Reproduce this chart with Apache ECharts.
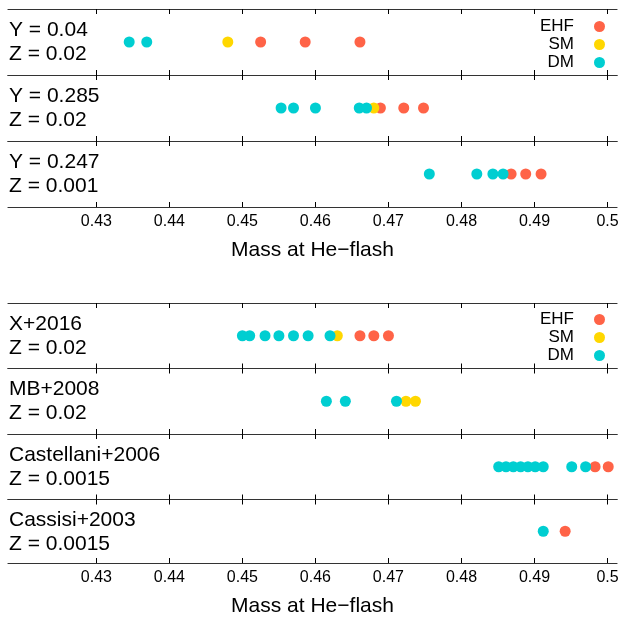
<!DOCTYPE html>
<html>
<head>
<meta charset="utf-8">
<script src="https://cdn.jsdelivr.net/npm/echarts@6/dist/echarts.min.js"></script>
<style>
  html, body { margin: 0; padding: 0; background: #fff; }
  #chart { width: 625px; height: 618px; }
</style>
</head>
<body>
<div id="chart"></div>
<script>
// tick values on the mass axis
const xTicks = [0.43, 0.44, 0.45, 0.46, 0.47, 0.48, 0.49, 0.5]
const axisTitle = 'Mass at He\u2212flash'
const seriesNames = ['EHF', 'SM', 'DM']

// one entry per row, top to bottom
const rowLabels = [
  'Y = 0.04\nZ = 0.02',
  'Y = 0.285\nZ = 0.02',
  'Y = 0.247\nZ = 0.001',
  'X+2016\nZ = 0.02',
  'MB+2008\nZ = 0.02',
  'Castellani+2006\nZ = 0.0015',
  'Cassisi+2003\nZ = 0.0015'
]
const ehfMass = [
  [0.4525, 0.4586, 0.4661],
  [0.4689, 0.4721, 0.4748],
  [0.4868, 0.4888, 0.4909],
  [0.4661, 0.4680, 0.4700],
  [],
  [0.4983, 0.5001],
  [0.4942]
]
const smMass = [
  [0.4480],
  [0.4680],
  [],
  [0.4630],
  [0.4724, 0.4737],
  [],
  []
]
const dmMass = [
  [0.4345, 0.4369],
  [0.4553, 0.4570, 0.4600, 0.4660, 0.4670],
  [0.4756, 0.4821, 0.4843, 0.4857],
  [0.4500, 0.4510, 0.4531, 0.4550, 0.4570, 0.4590, 0.4620],
  [0.4615, 0.4641, 0.4711],
  [0.4851, 0.4861, 0.4871, 0.4881, 0.4891, 0.4901, 0.4912, 0.4951, 0.4970],
  [0.4912]
]

// layout of the rows (px)
const rowTops = [9, 75, 141, 303, 368.5, 434, 499.5]
const rowHeights = [66, 66, 66, 65.5, 65.5, 65.5, 65.5]
const lastRows = [2, 6]
const firstRows = [0, 3]

const colors = { EHF: '#FF6347', SM: '#FFD700', DM: '#00CED1' }
const font = '"Liberation Sans", Arial, sans-serif'
const lineColor = '#333'

const grid = []
const xAxis = []
const yAxis = []
const series = []
const title = []

rowLabels.forEach((label, i) => {
  grid.push({ left: 8, right: 8, top: rowTops[i], height: rowHeights[i] })
  const isLast = lastRows.includes(i)
  // bottom axis
  xAxis.push({
    type: 'value',
    gridIndex: i,
    position: 'bottom',
    min: 0.4179,
    max: 0.5013,
    axisLine: { show: true, onZero: false, lineStyle: { color: lineColor, width: 1.2 } },
    axisTick: { show: true, inside: true, length: 5, customValues: xTicks, lineStyle: { color: '#000' } },
    axisLabel: {
      show: isLast,
      customValues: xTicks,
      formatter: v => String(v),
      fontSize: 16,
      margin: 7,
      color: '#000',
      fontFamily: font
    },
    splitLine: { show: false },
    name: isLast ? axisTitle : '',
    nameLocation: 'middle',
    nameGap: 33,
    nameTextStyle: { fontSize: 21, color: '#000', fontFamily: font }
  })
  // top axis, only for the inward ticks
  xAxis.push({
    type: 'value',
    gridIndex: i,
    position: 'top',
    min: 0.4179,
    max: 0.5013,
    axisLine: { show: true, onZero: false, lineStyle: { color: lineColor, width: 1.2 } },
    axisTick: { show: true, inside: true, length: 5, customValues: xTicks, lineStyle: { color: '#000' } },
    axisLabel: { show: false },
    splitLine: { show: false }
  })
  yAxis.push({ type: 'value', gridIndex: i, min: -1, max: 1, show: false })

  title.push({
    text: label,
    left: 9,
    top: rowTops[i] + rowHeights[i] / 2 - 24,
    padding: 0,
    textStyle: { fontSize: 21, fontWeight: 'normal', color: '#000', lineHeight: 24, fontFamily: font }
  })

  const groups = [ehfMass[i], smMass[i], dmMass[i]]
  seriesNames.forEach((name, k) => {
    series.push({
      name: name,
      type: 'scatter',
      xAxisIndex: i * 2,
      yAxisIndex: i,
      symbol: 'circle',
      symbolSize: 11,
      itemStyle: { color: colors[name], opacity: 1 },
      emphasis: { disabled: true },
      data: groups[k].map(m => [m, 0])
    })
  })
})

const legendTops = [13, 306]
const legend = firstRows.map((r, j) => ({
  data: seriesNames,
  orient: 'vertical',
  align: 'right',
  right: 15,
  top: legendTops[j],
  itemGap: 1,
  itemWidth: 11,
  itemHeight: 11,
  icon: 'circle',
  selectedMode: false,
  textStyle: { fontSize: 17, color: '#000', fontFamily: font, padding: [0, 15, 0, 0] }
}))

const myChart = echarts.init(document.querySelector('#chart'), null, { renderer: 'canvas' })
myChart.setOption({
  animation: false,
  backgroundColor: '#fff',
  title,
  legend,
  grid,
  xAxis,
  yAxis,
  series
})
</script>
</body>
</html>
